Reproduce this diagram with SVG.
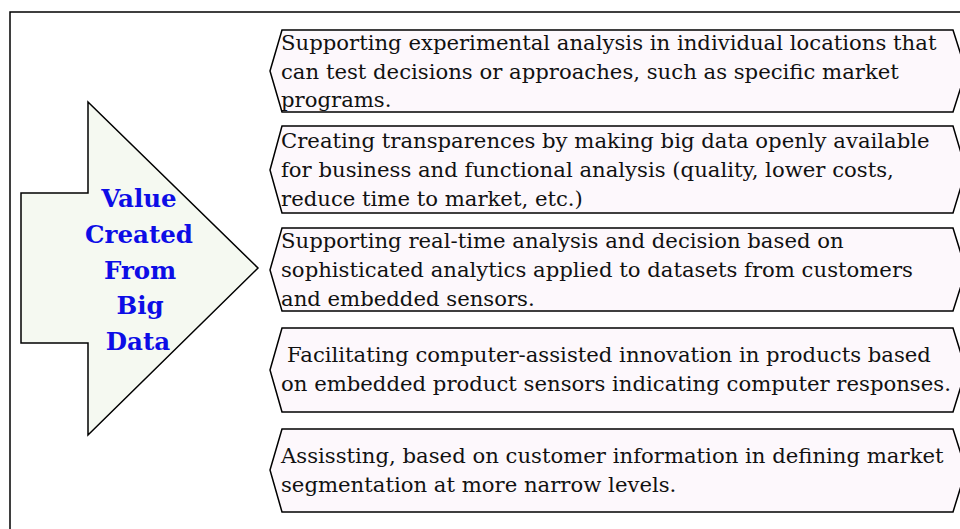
<svg xmlns="http://www.w3.org/2000/svg" width="960" height="529" viewBox="0 0 960 529">
<style>
.frame{fill:#ffffff;stroke:#000000;stroke-width:1.5}
.arrow{fill:#f5f9f1;stroke:#000000;stroke-width:1.5}
.box{fill:#fdf8fc;stroke:#000000;stroke-width:1.5}
.t{font-family:"DejaVu Serif","Liberation Serif",serif;font-size:21.2px;fill:#111111}
.h{font-family:"DejaVu Serif","Liberation Serif",serif;font-size:24.5px;font-weight:bold;fill:#0d0de6;text-anchor:middle}
</style>
<rect class="frame" x="10" y="12" width="980" height="540"/>
<g id="arrow">
<polygon class="arrow" points="21,193 88,193 88,102 258,268 88,435 88,343 21,343"/>
<text class="h" x="139" y="207">Value</text>
<text class="h" x="139" y="243">Created</text>
<text class="h" x="140" y="279">From</text>
<text class="h" x="140" y="314">Big</text>
<text class="h" x="138" y="350">Data</text>
</g>
<g id="box1">
<polygon class="box" points="282,30 953,30 966,71 953,112 282,112 270,71"/>
<text class="t" x="281" y="50">Supporting experimental analysis in individual locations that</text>
<text class="t" x="281" y="79">can test decisions or approaches, such as specific market</text>
<text class="t" x="281" y="107">programs.</text>
</g>
<g id="box2">
<polygon class="box" points="282,126 953,126 966,170 953,213 282,213 270,170"/>
<text class="t" x="281" y="148">Creating transparences by making big data openly available</text>
<text class="t" x="281" y="177">for business and functional analysis (quality, lower costs,</text>
<text class="t" x="281" y="206">reduce time to market, etc.)</text>
</g>
<g id="box3">
<polygon class="box" points="282,228 953,228 966,270 953,311 282,311 270,270"/>
<text class="t" x="281" y="248">Supporting real-time analysis and decision based on</text>
<text class="t" x="281" y="277">sophisticated analytics applied to datasets from customers</text>
<text class="t" x="281" y="306">and embedded sensors.</text>
</g>
<g id="box4">
<polygon class="box" points="282,328 953,328 966,370 953,412 282,412 270,370"/>
<text class="t" x="287" y="362">Facilitating computer-assisted innovation in products based</text>
<text class="t" x="281" y="391">on embedded product sensors indicating computer responses.</text>
</g>
<g id="box5">
<polygon class="box" points="282,429 953,429 966,470 953,512 282,512 270,470"/>
<text class="t" x="281" y="463">Assissting, based on customer information in defining market</text>
<text class="t" x="281" y="492">segmentation at more narrow levels.</text>
</g>
</svg>
